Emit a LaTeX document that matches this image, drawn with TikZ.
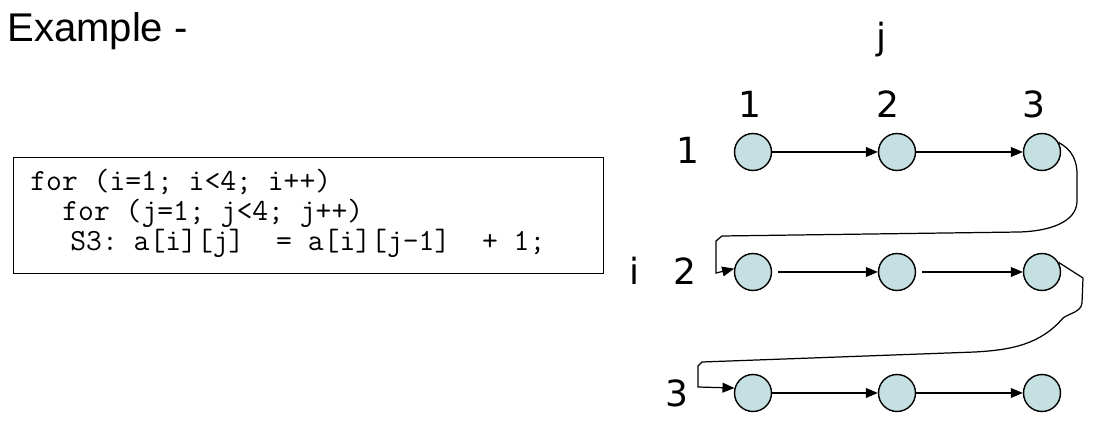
\documentclass[tikz,border=0pt]{standalone}
\usepackage{fontspec}
\setmainfont{Liberation Sans}
\newfontfamily\numfont{DejaVu Sans}
\usepackage{tikz}
\usetikzlibrary{arrows.meta,positioning,calc}
\definecolor{dotfill}{RGB}{197,224,224}
\frenchspacing

\begin{document}
\begin{tikzpicture}[x=0.02cm,y=-0.02cm,
        dot/.style={circle,draw,line width=0.8pt,fill=dotfill,minimum size=0.74cm,inner sep=0pt},
        flow/.style={-{Triangle[length=6.8pt,width=5.6pt]},line width=0.7pt},
        idx/.style={font=\numfont\fontsize{20.5}{22}\selectfont,inner sep=0pt,anchor=base},
        codebox/.style={draw,line width=0.7pt,anchor=north west,minimum width=11.81cm,minimum height=2.32cm,inner sep=0pt},
        codeline/.style={font=\ttfamily\fontsize{17.5}{18}\selectfont,inner sep=0pt,anchor=base west}]
        \useasboundingbox (0,0) rectangle (1096,438);
        % Title
        \node[anchor=base west,inner sep=0pt,font=\fontsize{22.8}{24}\selectfont] (title) at (7,42) {Example -};
        % Loop nest
        \node[codebox] (box) at (12.5,157) {};
        \node[codeline] (outer) at (30,191) {for (i=1; i<4; i++)};
        \node[codeline] (inner) at (62,221) {for (j=1; j<4; j++)};
        \node[codeline] (stmt) at (70,251) {S3: a[i][j]\ \ = a[i][j-1]\ \ + 1;};
        % Iteration space
        \foreach \r/\y in {1/152,2/272,3/393} {
            \foreach \c/\x in {1/753,2/897,3/1042} {
                \node[dot] (n\r\c) at (\x,\y) {};
            }
        }
        \node[idx] (jlab) at (881,50) {j};
        \node[idx] (col1) at (750,118) {1};
        \node[idx] (col2) at (888,118) {2};
        \node[idx] (col3) at (1034,118) {3};
        \node[idx] (ilab) at (634,285) {i};
        \node[idx] (row1) at (688,164) {1};
        \node[idx] (row2) at (685,285) {2};
        \node[idx] (row3) at (677,407) {3};
        % Dependences along j
        \draw[flow] (n11) -- (n12);
        \draw[flow] (n12) -- (n13);
        \draw[flow,shorten <=3.4pt] (n21) -- (n22);
        \draw[flow,shorten <=3.4pt] (n22) -- (n23);
        \draw[flow] (n31) -- (n32);
        \draw[flow] (n32) -- (n33);
        % Execution order between rows
        \draw[flow] (n13.30) .. controls (1072,150) and (1078,160) .. (1077,180) -- (1077,202)
            .. controls (1076,222) and (1050,231) .. (1020,232) -- (722,236) -- (716,241)
            -- (716,273) -- (n21.170);
        \draw[flow] (n23.30) -- (1083,278) -- (1082,303) .. controls (1081,312) and (1070,313) .. (1063,318)
            .. controls (1040,345) and (1010,350) .. (975,352) -- (702,362) -- (698,366)
            -- (698,387) -- (n31.165);
\end{tikzpicture}
\end{document}
